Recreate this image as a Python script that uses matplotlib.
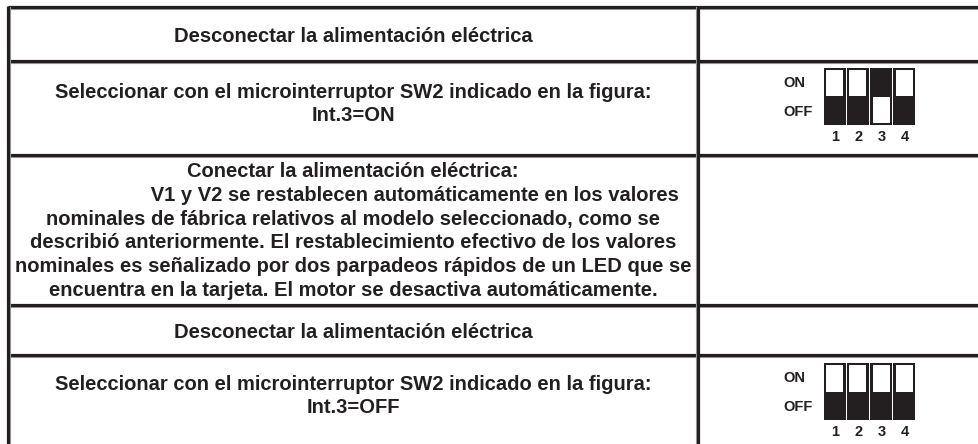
import matplotlib.pyplot as plt
from matplotlib.patches import Rectangle

plt.rcParams['font.family'] = ['Liberation Sans', 'DejaVu Sans']

# tabla: bordes de filas (px desde arriba) y columna
row_edges = [7, 61.5, 155, 305, 355]
col_split = 698
left_edge = 8.5

row_texts = [
    "Desconectar la alimentación eléctrica",
    "Seleccionar con el microinterruptor SW2 indicado en la figura:\nInt.3=ON",
    "Conectar la alimentación eléctrica:\n"
    "                      V1 y V2 se restablecen automáticamente en los valores\n"
    "nominales de fábrica relativos al modelo seleccionado, como se\n"
    "describió anteriormente. El restablecimiento efectivo de los valores\n"
    "nominales es señalizado por dos parpadeos rápidos de un LED que se\n"
    "encuentra en la tarjeta. El motor se desactiva automáticamente.",
    "Desconectar la alimentación eléctrica",
    "Seleccionar con el microinterruptor SW2 indicado en la figura:\nInt.3=OFF",
]
text_y = [36, 104, 231, 332, 396]

# microinterruptores: True = palanca en ON
switch_labels = ["1", "2", "3", "4"]
dip_states = {
    1: [False, False, True, False],
    4: [False, False, False, False],
}
dip_top = {1: 68, 4: 363}

ink = '#231f20'

fig = plt.figure(figsize=(9.79, 4.44), dpi=100)
ax = fig.add_axes([0, 0, 1, 1])
ax.set_xlim(0, 979)
ax.set_ylim(444, 0)
ax.axis('off')

# lineas de la tabla
for y in row_edges:
    ax.plot([left_edge, 979], [y + 1.8, y + 1.8], color='#a0a0a0', lw=0.8)
    ax.plot([left_edge, 979], [y, y], color=ink, lw=2.3, solid_capstyle='butt')
ax.plot([left_edge + 1.8, left_edge + 1.8], [row_edges[0], 444], color='#a0a0a0', lw=0.8)
ax.plot([left_edge, left_edge], [row_edges[0] - 1.2, 444], color=ink, lw=2.3, solid_capstyle='butt')
ax.plot([col_split - 1.8, col_split - 1.8], [row_edges[0], 444], color='#a0a0a0', lw=0.8)
ax.plot([col_split, col_split], [row_edges[0], 444], color=ink, lw=2.3, solid_capstyle='butt')

# textos
for txt, y in zip(row_texts, text_y):
    ax.text((left_edge + col_split) / 2, y, txt, ha='center', va='center',
            multialignment='center', fontsize=14.5, fontweight='bold', color=ink,
            linespacing=1.33)

# dibujar microinterruptores
box_left = 823
sw_w = 23.25
box_h = 57
for row, states in dip_states.items():
    top = dip_top[row]
    for i, on in enumerate(states):
        x0 = box_left + i * sw_w
        ax.add_patch(Rectangle((x0 + 0.6, top), sw_w - 1.2, box_h, facecolor=ink, edgecolor='none'))
        wy = top + box_h / 2 if on else top + 2.3
        ax.add_patch(Rectangle((x0 + 3.2, wy), sw_w - 6.2, box_h / 2 - 2.3,
                               facecolor='white', edgecolor='none'))
        ax.text(x0 + sw_w / 2 + 0.5, top + box_h + 12, switch_labels[i], ha='center', va='center',
                fontsize=10.5, fontweight='bold', color=ink)
    ax.text(783, top + box_h * 0.26, "ON", ha='left', va='center',
            fontsize=10.5, fontweight='bold', color=ink)
    ax.text(783, top + box_h * 0.77, "OFF", ha='left', va='center',
            fontsize=10.5, fontweight='bold', color=ink)

fig.savefig('out.png', dpi=100)
